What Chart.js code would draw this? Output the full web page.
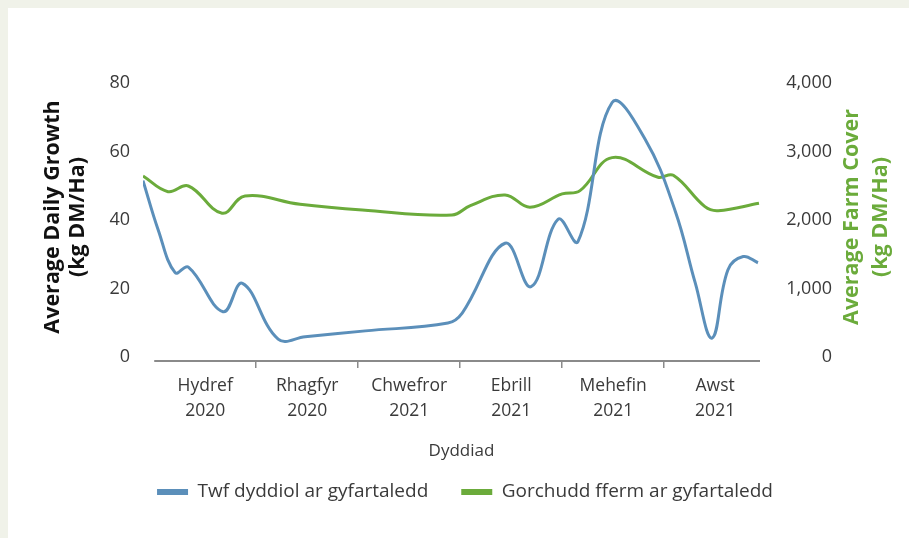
<!DOCTYPE html>
<html>
<head>
<meta charset="utf-8">
<script src="https://cdn.jsdelivr.net/npm/chart.js@4.4.1/dist/chart.umd.min.js"></script>
<style>
  html, body { margin: 0; padding: 0; background: #f0f2e9; }
  #wrap { position: absolute; left: 8px; top: 8px; width: 901px; height: 530px; background: #ffffff; }
  canvas { display: block; }
</style>
</head>
<body>
<div id="wrap"><canvas id="c" width="901" height="530"></canvas></div>
<script>
// ---- Data (x = months since 1 Oct 2020) ----
const blueMonths  = [-0.22, 0.08, 0.41, 0.67, 1.35, 1.73, 2.43, 2.96, 4.14, 5.76, 6.04, 6.88, 7.39, 7.92, 8.31, 8.98, 9.63, 10.22, 10.61, 10.94, 11.25, 11.55, 11.84];
const blueGrowth  = [51.5, 37, 24.6, 26.2, 13.2, 21.5, 5.2, 5.9, 7.6, 9.9, 12.8, 33.2, 20.5, 40.2, 33.7, 74.3, 63.5, 42.5, 21.6, 5.5, 25.4, 29.3, 27.5];
const greenMonths = [-0.22, 0.27, 0.67, 1.33, 1.78, 2.86, 4.08, 5.84, 6.20, 6.88, 7.37, 8.00, 8.35, 8.98, 9.88, 10.18, 10.80, 11.06, 11.86];
const greenCover  = [2642, 2413, 2496, 2098, 2350, 2229, 2146, 2073, 2210, 2365, 2185, 2380, 2428, 2910, 2623, 2652, 2194, 2136, 2244];

const monthLabels = ['Hydref', 'Rhagfyr', 'Chwefror', 'Ebrill', 'Mehefin', 'Awst'];
const yearLabels  = ['2020', '2020', '2021', '2021', '2021', '2021'];
const labelPositions    = [1, 3, 5, 7, 9, 11];
const boundaryPositions = [2, 4, 6, 8, 10];
const growthTicks = [0, 20, 40, 60, 80];
const coverTicks  = [0, 1000, 2000, 3000, 4000];

const seriesNames = ['Twf dyddiol ar gyfartaledd', 'Gorchudd fferm ar gyfartaledd'];
const xTitle = 'Dyddiad';
const leftTitle = ['Average Daily Growth', '(kg DM/Ha)'];
const rightTitle = ['Average Farm Cover', '(kg DM/Ha)'];

// ---- Style ----
const BLUE = '#5b8fba';
const GREEN = '#6bab3b';
const FONT = "'Open Sans', 'Lato', sans-serif";
const TXT = '#3a3a3a';

const xTickValues = labelPositions.concat(boundaryPositions).sort((a, b) => a - b);

const titlesPlugin = {
  id: 'axisTitles',
  afterDraw(chart) {
    const { ctx, chartArea } = chart;
    const cy = (chartArea.top + chartArea.bottom) / 2 - 5;
    ctx.save();
    ctx.font = "bold 21.5px " + FONT;
    ctx.textAlign = 'center';
    ctx.textBaseline = 'middle';
    const drawRot = (text, x, color) => {
      ctx.save();
      ctx.translate(x, cy);
      ctx.rotate(-Math.PI / 2);
      ctx.fillStyle = color;
      ctx.fillText(text, 0, 0);
      ctx.restore();
    };
    drawRot(leftTitle[0], chartArea.left - 90, '#111111');
    drawRot(leftTitle[1], chartArea.left - 65, '#111111');
    drawRot(rightTitle[0], chartArea.right + 92, GREEN);
    drawRot(rightTitle[1], chartArea.right + 121, GREEN);
    // x axis title
    ctx.font = "17px " + FONT;
    ctx.fillStyle = TXT;
    ctx.fillText(xTitle, (chartArea.left + chartArea.right) / 2 + 10, chartArea.bottom + 90);
    // x axis baseline, starting at the first month boundary
    const xs = chart.scales.x;
    ctx.strokeStyle = '#8a8a8a';
    ctx.lineWidth = 2;
    ctx.beginPath();
    ctx.moveTo(xs.getPixelForValue(0), chartArea.bottom);
    ctx.lineTo(chartArea.right, chartArea.bottom);
    ctx.stroke();
    ctx.restore();
  }
};

new Chart(document.getElementById('c'), {
  type: 'line',
  data: {
    datasets: [
      {
        label: seriesNames[0],
        data: blueMonths.map((m, i) => ({ x: m, y: blueGrowth[i] })),
        yAxisID: 'y',
        borderColor: BLUE, backgroundColor: BLUE,
        borderWidth: 3, pointRadius: 0, tension: 0.4, fill: false
      },
      {
        label: seriesNames[1],
        data: greenMonths.map((m, i) => ({ x: m, y: greenCover[i] })),
        yAxisID: 'y1',
        borderColor: GREEN, backgroundColor: GREEN,
        borderWidth: 3, pointRadius: 0, tension: 0.4, fill: false
      }
    ]
  },
  options: {
    responsive: false,
    animation: false,
    layout: { padding: { left: 90, right: 77, top: 75, bottom: 26.5 } },
    plugins: {
      tooltip: { enabled: false },
      legend: {
        position: 'bottom',
        labels: {
          boxWidth: 31, boxHeight: 6, padding: 33, color: TXT,
          font: { family: FONT, size: 19 },
          generateLabels: (chart) => Chart.defaults.plugins.legend.labels.generateLabels(chart).map(l => Object.assign(l, { lineWidth: 0 }))
        }
      }
    },
    scales: {
      x: {
        type: 'linear',
        min: -0.22, max: 11.88,
        afterBuildTicks: (s) => { s.ticks = xTickValues.map(v => ({ value: v })); },
        ticks: {
          autoSkip: false, maxRotation: 0, minRotation: 0, padding: 6, color: TXT,
          font: { family: FONT, size: 17.5, lineHeight: '25px' },
          callback: (v) => {
            const i = labelPositions.indexOf(v);
            return i >= 0 ? [monthLabels[i], yearLabels[i]] : '';
          }
        },
        grid: {
          drawOnChartArea: false, drawTicks: true, tickLength: 7, lineWidth: 1.5,
          color: (ctx) => (ctx.tick && boundaryPositions.includes(ctx.tick.value)) ? '#8a8a8a' : 'rgba(0,0,0,0)'
        },
        border: { display: false },
        title: { display: false },
        afterFit: (s) => { s.height = 88.5; }
      },
      y: {
        position: 'left',
        min: -1.2, max: 80,
        afterBuildTicks: (s) => { s.ticks = growthTicks.map(v => ({ value: v })); },
        ticks: { padding: 13, color: TXT, font: { family: FONT, size: 18 } },
        grid: { display: false, drawTicks: false, tickLength: 0 },
        border: { display: false },
        afterFit: (s) => { s.width = 45; }
      },
      y1: {
        position: 'right',
        min: -60, max: 4000,
        afterBuildTicks: (s) => { s.ticks = coverTicks.map(v => ({ value: v })); },
        ticks: { padding: 25, crossAlign: 'far', color: TXT, font: { family: FONT, size: 18 },
          callback: (v) => v.toLocaleString('en-US') },
        grid: { display: false, drawTicks: false, tickLength: 0 },
        border: { display: false },
        afterFit: (s) => { s.width = 72; }
      }
    }
  },
  plugins: [titlesPlugin]
});
</script>
</body>
</html>
